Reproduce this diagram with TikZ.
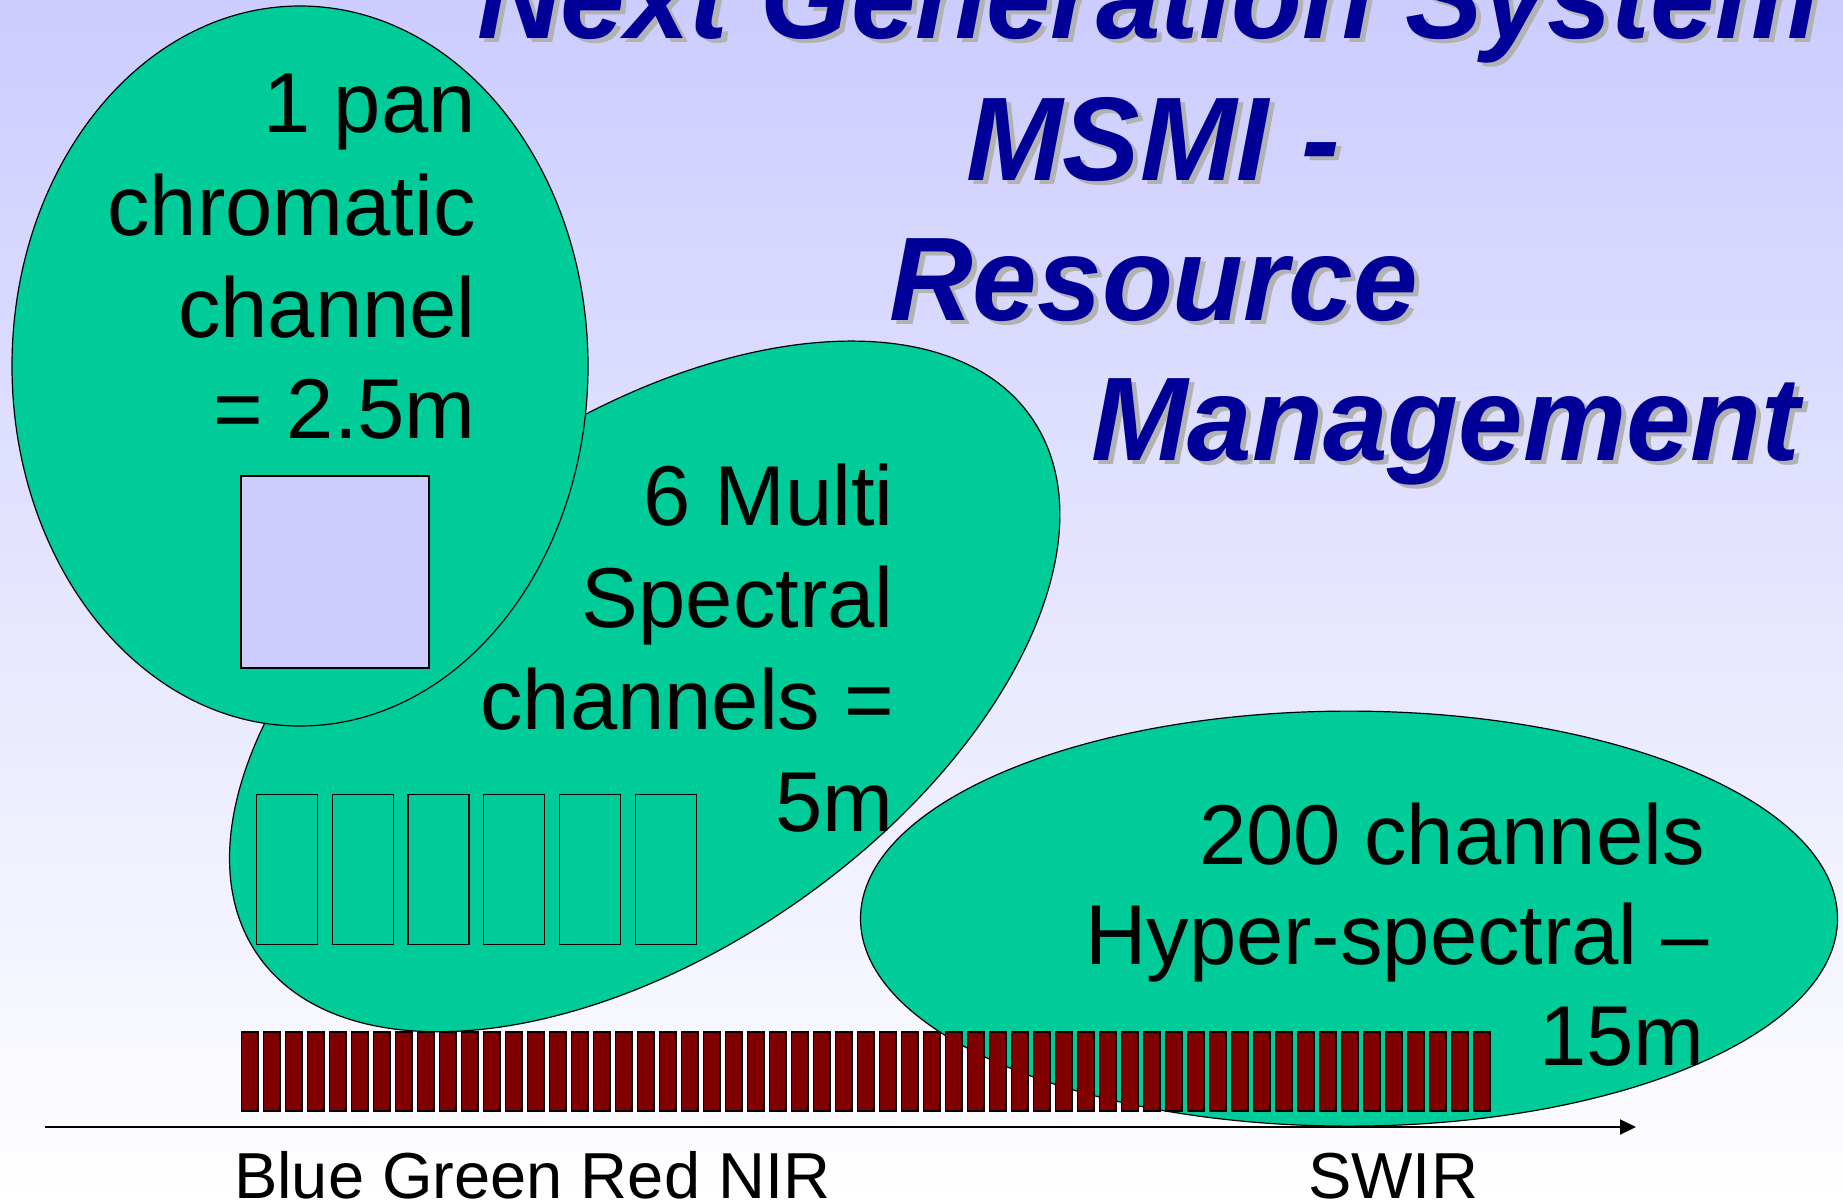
\documentclass[tikz,border=0pt]{standalone}
\usepackage{fontspec}
\setmainfont{Liberation Sans}
\newfontfamily\titlefont[FakeStretch=0.975]{Liberation Sans}
\usetikzlibrary{shapes.geometric,arrows.meta}
\definecolor{bgtop}{RGB}{204,204,255}
\definecolor{blobgreen}{RGB}{0,204,153}
\definecolor{barred}{RGB}{128,0,0}
\definecolor{titleblue}{RGB}{0,0,153}
\definecolor{shadowgray}{RGB}{178,178,178}
\begin{document}
\begin{tikzpicture}[x=1pt,y=-1pt,
  blob/.style={ellipse, draw=black, line width=1.2pt, fill=blobgreen, inner sep=0pt, outer sep=0pt},
  chanbox/.style={rectangle, draw=black, line width=1.3pt, inner sep=0pt, outer sep=0pt, anchor=north west},
  barbox/.style={rectangle, draw=black, line width=1.5pt, fill=barred, inner sep=0pt, outer sep=0pt, anchor=north west, minimum width=16.5pt, minimum height=79pt},
  lab/.style={font=\fontsize{85}{102}\selectfont, anchor=base east, inner sep=0pt, text=black},
  ttl/.style={font=\fontsize{119}{140}\titlefont\bfseries\itshape, anchor=base west, inner sep=0pt, text=titleblue},
  ttlsh/.style={ttl, text=shadowgray},
  axlab/.style={font=\fontsize{65}{70}\selectfont, anchor=base west, inner sep=0pt}]
\shade[top color=bgtop, bottom color=white] (0,0) rectangle (1843,1203);
\useasboundingbox (0,0) rectangle (1843,1203);

% title
\foreach \tx/\ty/\tt [count=\i] in {477/38/{Next Generation System}, 966/180/{MSMI -}, 889/320/{Resource}, 1091/460/{Management}}{
  \node[ttlsh] (tsh\i) at (\tx+5,\ty+4) {\tt};
  \node[ttl] (t\i) at (\tx,\ty) {\tt};
}

% ellipses
\node[blob, minimum width=942pt, minimum height=528pt, rotate=34.8] (multi) at (644.7,686.4) {};
\node[blob, minimum width=576pt, minimum height=720pt] (pan) at (300,366) {};
\node[blob, minimum width=977pt, minimum height=415pt] (hyper) at (1349,918.6) {};

% pan square
\node[chanbox, fill=bgtop, minimum width=188pt, minimum height=192pt] (pansq) at (241,476) {};

% six multispectral boxes
\foreach \k in {0,...,5}{
  \node[chanbox, minimum width=61pt, minimum height=150pt] (ms\k) at (256.7+\k*75.7,794.5) {};
}

% hyperspectral bars
\foreach \k in {0,...,56}{
  \node[barbox] (hb\k) at (241.3+\k*22.0,1032) {};
}

% axis
\coordinate (ax0) at (45,1127);
\coordinate (ax1) at (1636,1127);
\draw[line width=2pt, -{Triangle[length=16pt,width=15pt]}] (ax0) -- (ax1);

% labels
\node[lab] (p1) at (476,132) {1 pan};
\node[lab] (p2) at (476,235) {chromatic};
\node[lab] (p3) at (476,337) {channel};
\node[lab] (p4) at (476,438) {= 2.5m};

\node[lab] (m1) at (894,525) {6 Multi};
\node[lab] (m2) at (894,627) {Spectral};
\node[lab] (m3) at (894,729) {channels =};
\node[lab] (m4) at (894,831) {5m};

\node[lab] (h1) at (1705,864) {200 channels};
\node[lab] (h2) at (1709,964) {Hyper-spectral –};
\node[lab] (h3) at (1705,1065) {15m};

\node[axlab] (bl) at (234,1198) {Blue Green Red NIR};
\node[axlab] (sw) at (1308,1198) {SWIR};
\end{tikzpicture}
\end{document}
